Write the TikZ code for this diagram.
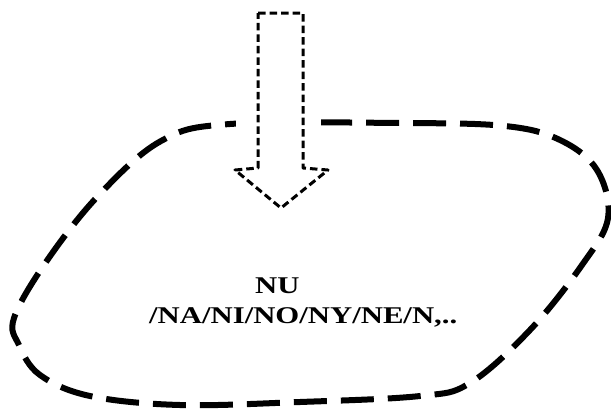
\documentclass[tikz,border=0pt]{standalone}
\usepackage{fontspec}
\setmainfont{Liberation Serif}
\begin{document}
\begin{tikzpicture}[x=1pt,y=-1pt,
  blob/.style={line width=6pt, dash pattern=on 33pt off 14pt},
  arrowline/.style={line width=3pt, dash pattern=on 7.5pt off 4pt, fill=white, line join=round},
  lbl/.style={inner sep=0pt, anchor=base west, font=\bfseries\fontsize{24}{28}\selectfont}]
\useasboundingbox (0,0) rectangle (611,408);
\draw[blob] plot[smooth cycle, tension=0.6] coordinates {
  (14,318) (46,262) (98,196) (161,141) (230,124) (400,123) (505,126)
  (560,140) (597,170) (608,218) (582,265) (530,330) (470,383) (420,396)
  (300,402) (180,405) (90,396) (40,375) (19,345)};
\fill[white] (236,112) rectangle (321,136);
\draw[arrowline] (258,13) -- (303,13) -- (303,168) -- (328,170) -- (281,208)
  -- (235,170) -- (258,168) -- cycle;
\node[lbl] (nu) at (255,293) {\scalebox{1.28}[1]{NU}};
\node[lbl] (list) at (149,323) {\scalebox{1.28}[1]{/NA/NI/NO/NY/NE/N,..}};
\end{tikzpicture}
\end{document}
